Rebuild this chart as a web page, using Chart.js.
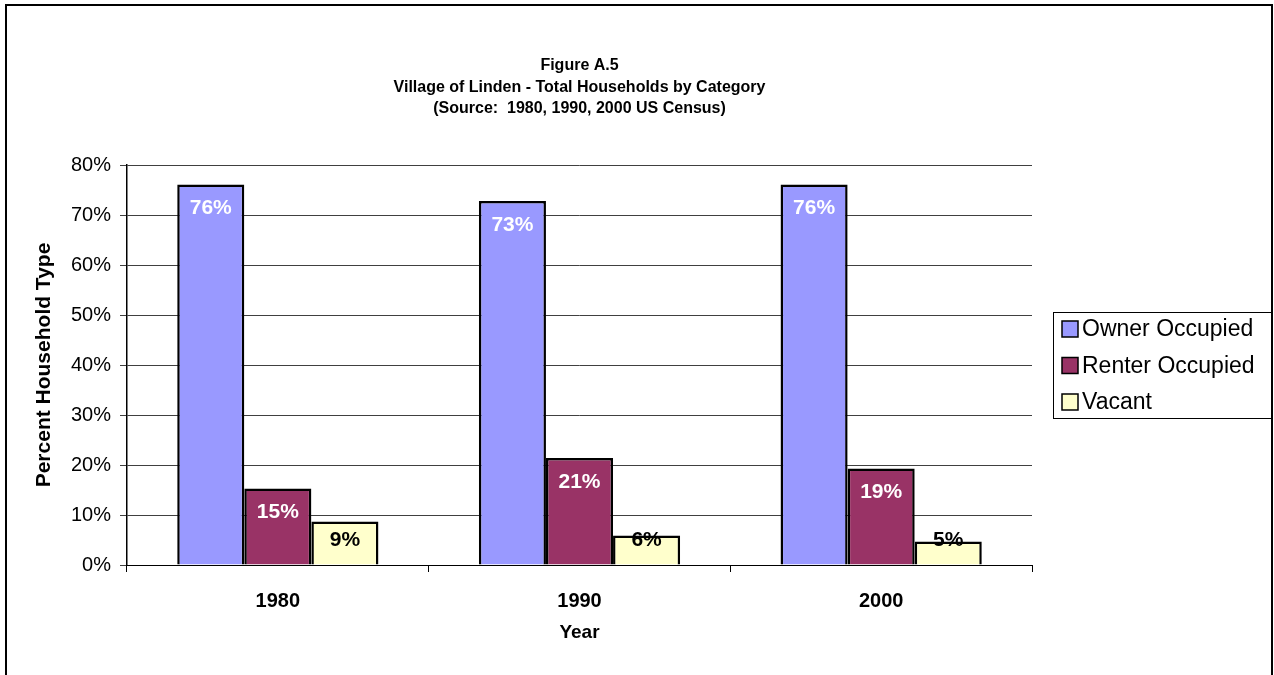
<!DOCTYPE html>
<html>
<head>
<meta charset="utf-8">
<script src="https://cdn.jsdelivr.net/npm/chart.js@4.4.1/dist/chart.umd.min.js"></script>
<style>
  html, body { margin: 0; padding: 0; background: #fff; }
  #wrap { width: 1274px; height: 675px; }
</style>
</head>
<body>
<div id="wrap"><canvas id="chart" width="1274" height="675"></canvas></div>
<script>
/* ---------- data ---------- */
const years = ["1980", "1990", "2000"];
const seriesNames = ["Owner Occupied", "Renter Occupied", "Vacant"];
const ownerOccupied = [76.1, 72.8, 76.1];
const renterOccupied = [15.3, 21.4, 19.3];
const vacant = [8.7, 5.9, 4.7];
const valueLabels = [["76%", "73%", "76%"], ["15%", "21%", "19%"], ["9%", "6%", "5%"]];
const yTicks = [0, 10, 20, 30, 40, 50, 60, 70, 80];
const titleLines = ["Figure A.5", "Village of Linden - Total Households by Category", "(Source:  1980, 1990, 2000 US Census)"];

const fills = ["#9999FF", "#993366", "#FFFFCC"];
const labelColors = ["#FFFFFF", "#FFFFFF", "#000000"];
const FONT = "'Liberation Sans', Arial, sans-serif";

/* ---------- title, legend, frame, value labels ---------- */
const decor = {
  id: "decor",
  afterDatasetsDraw(chart) {
    const ctx = chart.ctx;
    // value labels, inside end of bar
    ctx.save();
    ctx.font = "bold 21px " + FONT;
    ctx.textAlign = "center";
    ctx.textBaseline = "middle";
    chart.data.datasets.forEach((ds, i) => {
      chart.getDatasetMeta(i).data.forEach((bar, j) => {
        const y = Math.min(bar.y + 24, bar.base - 24);
        ctx.fillStyle = labelColors[i];
        ctx.fillText(valueLabels[i][j], bar.x, y);
      });
    });
    ctx.restore();
  },
  afterDraw(chart) {
    const ctx = chart.ctx;
    const area = chart.chartArea;
    ctx.save();
    // outer frame
    ctx.strokeStyle = "#000";
    ctx.lineWidth = 2;
    ctx.strokeRect(6, 5, 1266, 700);

    // title centred over plot area
    ctx.fillStyle = "#000";
    ctx.font = "bold 16px " + FONT;
    ctx.textAlign = "center";
    ctx.textBaseline = "middle";
    const cx = (area.left + area.right) / 2;
    titleLines.forEach((t, k) => ctx.fillText(t, cx, 66 + k * 21.5));

    // legend
    const lx = 1053, ly = 312, lw = 219, lh = 106;
    ctx.lineWidth = 1;
    ctx.strokeStyle = "#000";
    ctx.strokeRect(lx + 0.5, ly + 0.5, lw, lh);
    ctx.font = "23px " + FONT;
    ctx.textAlign = "left";
    seriesNames.forEach((name, k) => {
      const yc = 329 + k * 36.5;
      ctx.fillStyle = fills[k];
      ctx.fillRect(1062, yc - 8, 16, 16);
      ctx.lineWidth = 1.5;
      ctx.strokeRect(1062, yc - 8, 16, 16);
      ctx.fillStyle = "#000";
      ctx.fillText(name, 1082, yc + 1);
    });
    ctx.restore();
  }
};

/* ---------- chart ---------- */
new Chart(document.getElementById("chart"), {
  type: "bar",
  data: {
    labels: years,
    datasets: [ownerOccupied, renterOccupied, vacant].map((vals, i) => ({
      label: seriesNames[i],
      data: vals,
      backgroundColor: fills[i],
      borderColor: "#000",
      borderWidth: 2.5,
      categoryPercentage: 0.667,
      barPercentage: 1.0
    }))
  },
  options: {
    responsive: false,
    animation: false,
    devicePixelRatio: 1,
    layout: { padding: { top: 165, right: 242, left: 0, bottom: 0 } },
    plugins: {
      legend: { display: false },
      title: { display: false },
      tooltip: { enabled: false }
    },
    scales: {
      x: {
        grid: {
          offset: true,
          drawOnChartArea: false,
          drawTicks: true,
          tickLength: 7,
          color: "#000"
        },
        border: { color: "#000", width: 1 },
        ticks: {
          color: "#000",
          font: { family: FONT, size: 20, weight: "bold" },
          padding: 17
        },
        title: {
          display: true,
          text: "Year",
          color: "#000",
          font: { family: FONT, size: 19, weight: "bold" },
          padding: { top: 0, bottom: 31 }
        },
        afterFit(scale) { scale.height = 110; }
      },
      y: {
        min: 0,
        max: 80,
        afterBuildTicks(scale) { scale.ticks = yTicks.map(v => ({ value: v })); },
        grid: {
          color: "#404040",
          lineWidth: 1,
          drawTicks: true,
          tickLength: 7
        },
        border: { color: "#000", width: 1.5 },
        ticks: {
          color: "#000",
          font: { family: FONT, size: 20 },
          padding: 9,
          callback: v => v + "%"
        },
        title: {
          display: true,
          text: "Percent Household Type",
          color: "#000",
          font: { family: FONT, size: 21, weight: "bold" },
          padding: { top: 32, bottom: 0 }
        },
        afterFit(scale) { scale.width = 127; }
      }
    }
  },
  plugins: [decor]
});
</script>
</body>
</html>
